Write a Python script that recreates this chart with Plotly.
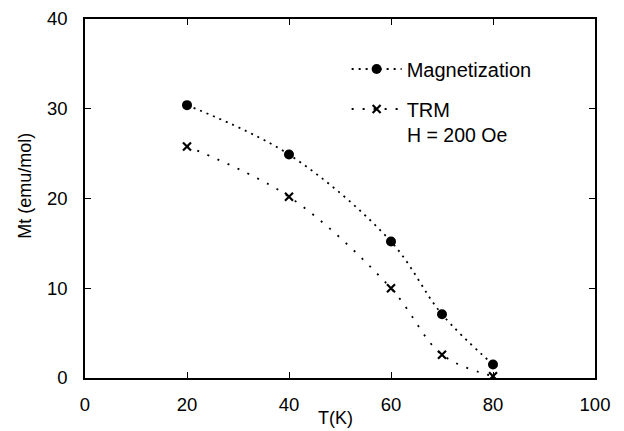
import plotly.graph_objects as go

T = [20, 40, 60, 70, 80]
magnetization = [30.4, 24.9, 15.2, 7.1, 1.5]
trm = [25.8, 20.2, 10.0, 2.6, 0.2]
x_ticks = [0, 20, 40, 60, 80, 100]
y_ticks = [0, 10, 20, 30, 40]

FONT = "Liberation Sans, Arial, sans-serif"

fig = go.Figure()
fig.add_trace(go.Scatter(
    x=T, y=magnetization, name="Magnetization", mode="lines+markers",
    line=dict(color="black", width=1.8, dash="2px,5px", shape="spline", smoothing=1.0),
    marker=dict(symbol="circle", size=10, color="black"),
    legendgroup="a",
))
fig.add_trace(go.Scatter(
    x=T, y=trm, name="TRM", mode="lines+markers",
    line=dict(color="black", width=1.8, dash="2px,9px", shape="spline", smoothing=1.0),
    marker=dict(symbol="x-thin", size=8, color="black", line=dict(width=2.2, color="black")),
    legendgroup="b",
))

fig.add_annotation(
    text="H = 200 Oe", xref="paper", yref="paper", x=0.628, y=0.676,
    xanchor="left", yanchor="middle", showarrow=False,
    font=dict(family=FONT, size=19.5, color="black"),
)
fig.add_annotation(
    text="T(K)", xref="paper", yref="paper", x=0.492, y=-0.111,
    xanchor="center", yanchor="middle", showarrow=False,
    font=dict(family=FONT, size=18, color="black"),
)
fig.add_annotation(
    text="Mt (emu/mol)", xref="paper", yref="paper", x=-0.118, y=0.535,
    xanchor="center", yanchor="middle", showarrow=False, textangle=-90,
    font=dict(family=FONT, size=18, color="black"),
)

axis_common = dict(
    showgrid=False, zeroline=False, showline=True, linecolor="black", linewidth=1.5,
    mirror="ticks", ticks="inside", ticklen=6, tickwidth=1.2, tickcolor="black",
    tickfont=dict(family=FONT, size=18.5, color="black"), automargin=False,
    ticklabeloverflow="allow",
)

fig.update_layout(
    width=624, height=431,
    margin=dict(l=77, r=37, t=11, b=61),
    paper_bgcolor="white", plot_bgcolor="white",
    xaxis=dict(range=[0, 100], tickvals=x_ticks, ticklabelstandoff=9, **axis_common),
    yaxis=dict(range=[0, 40], tickvals=y_ticks, ticklabelstandoff=12, **axis_common),
    legend=dict(x=0.513, y=0.915, xanchor="left", yanchor="top",
                font=dict(family=FONT, size=20, color="black"),
                bgcolor="rgba(0,0,0,0)", traceorder="grouped", tracegroupgap=11,
                itemwidth=50),
    showlegend=True,
)

fig.write_html("out.html")
